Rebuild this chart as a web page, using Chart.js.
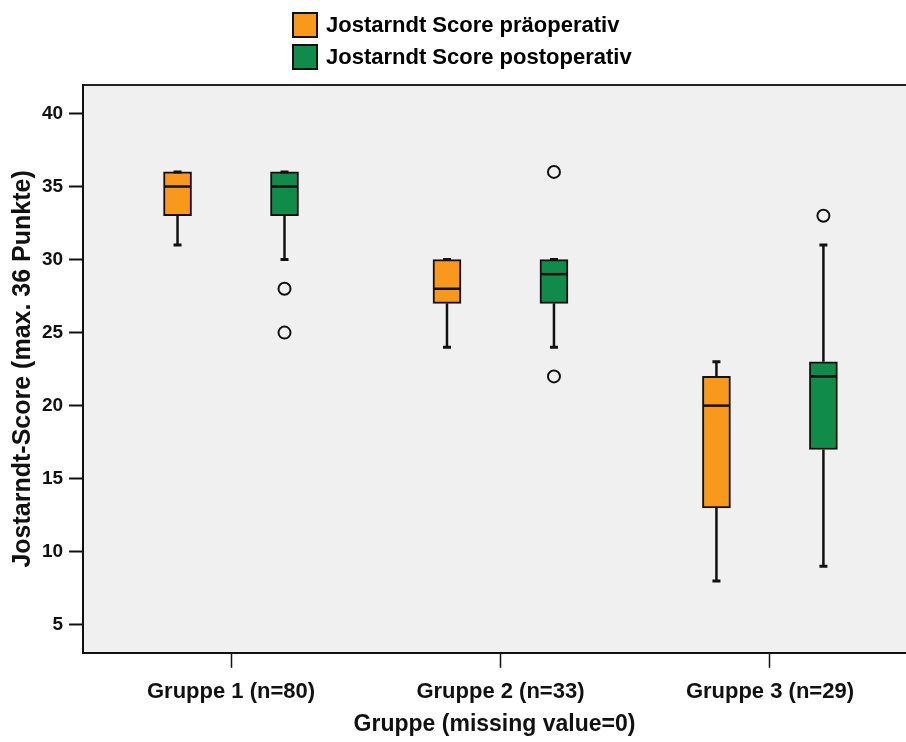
<!DOCTYPE html>
<html>
<head>
<meta charset="utf-8">
<script src="https://cdn.jsdelivr.net/npm/chart.js@4.4.0/dist/chart.umd.min.js"></script>
<style>
html,body{margin:0;padding:0;background:#ffffff;}
#wrap{position:relative;width:906px;height:742px;}
#legend{position:absolute;left:292px;top:12px;font:bold 22px "Liberation Sans",Arial,sans-serif;color:#000;}
#legend .item{display:flex;align-items:center;height:26px;margin-bottom:6px;white-space:nowrap;}
#legend .sw{width:22px;height:22px;border:2px solid #111;margin-right:8px;box-sizing:content-box;flex:none;}
</style>
</head>
<body>
<div id="wrap"><canvas id="c" width="906" height="742"></canvas><div id="legend"></div></div>
<script>
// ---- data ----
const groups = ["Gruppe 1 (n=80)", "Gruppe 2 (n=33)", "Gruppe 3 (n=29)"];
const seriesNames = ["Jostarndt Score präoperativ", "Jostarndt Score postoperativ"];
const yTicks = [5, 10, 15, 20, 25, 30, 35, 40];

const preMin = [31, 24, 8];
const preQ1 = [33, 27, 13];
const preMedian = [35, 28, 20];
const preQ3 = [36, 30, 22];
const preMax = [36, 30, 23];
const preOutliers = [[], [], []];

const postMin = [30, 24, 9];
const postQ1 = [33, 27, 17];
const postMedian = [35, 29, 22];
const postQ3 = [36, 30, 23];
const postMax = [36, 30, 31];
const postOutliers = [[28, 25], [36, 22], [33]];

// ---- styling ----
const FONT = '"Liberation Sans", Arial, sans-serif';
const colors = ["#F8991E", "#108B4A"];
const OFF = 0.1985;
const offsets = [-OFF, OFF];
const series = [
  {min: preMin, q1: preQ1, med: preMedian, q3: preQ3, max: preMax, out: preOutliers},
  {min: postMin, q1: postQ1, med: postMedian, q3: postQ3, max: postMax, out: postOutliers}
];

const boxDatasets = series.map((s, k) => ({
  type: 'bar',
  label: seriesNames[k],
  data: groups.map((g, i) => ({x: i + 1 + offsets[k], y: [s.q1[i], s.q3[i]]})),
  backgroundColor: colors[k],
  borderColor: '#111',
  borderWidth: 2,
  borderSkipped: false,
  grouped: false,
  maxBarThickness: 28,
  barPercentage: 1,
  categoryPercentage: 1,
  order: 2
}));

const outlierDatasets = series.map((s, k) => ({
  type: 'scatter',
  label: seriesNames[k] + ' (Ausreißer)',
  data: s.out.flatMap((arr, i) => arr.map(v => ({x: i + 1 + offsets[k], y: v}))),
  pointStyle: 'circle',
  pointRadius: 6,
  pointHoverRadius: 6,
  pointBorderWidth: 2,
  pointBorderColor: '#111',
  pointBackgroundColor: 'rgba(0,0,0,0)',
  showLine: false,
  order: 1
}));

const plotBg = {
  id: 'plotBg',
  beforeDraw(chart) {
    const {ctx, chartArea: a} = chart;
    ctx.save();
    ctx.fillStyle = '#F0F0F0';
    ctx.fillRect(a.left, a.top, a.right - a.left, a.bottom - a.top);
    ctx.strokeStyle = '#222';
    ctx.lineWidth = 2;
    ctx.beginPath();
    ctx.moveTo(a.left, a.top);
    ctx.lineTo(a.right, a.top);
    ctx.stroke();
    ctx.restore();
  }
};

const boxDecor = {
  id: 'boxDecor',
  afterDatasetsDraw(chart) {
    const {ctx} = chart;
    const xs = chart.scales.x, ys = chart.scales.y;
    ctx.save();
    ctx.strokeStyle = '#111';
    ctx.lineCap = 'butt';
    series.forEach((s, k) => {
      const meta = chart.getDatasetMeta(k);
      groups.forEach((g, i) => {
        const xc = xs.getPixelForValue(i + 1 + offsets[k]);
        const bar = meta.data[i];
        const hw = bar ? bar.width / 2 : 14;
        const yMin = ys.getPixelForValue(s.min[i]);
        const yMax = ys.getPixelForValue(s.max[i]);
        const yQ1 = ys.getPixelForValue(s.q1[i]);
        const yQ3 = ys.getPixelForValue(s.q3[i]);
        const yMed = ys.getPixelForValue(s.med[i]);
        ctx.lineWidth = 2.5;
        ctx.beginPath();
        ctx.moveTo(xc, yQ3); ctx.lineTo(xc, yMax);
        ctx.moveTo(xc, yQ1); ctx.lineTo(xc, yMin);
        ctx.stroke();
        ctx.lineWidth = 3;
        ctx.beginPath();
        ctx.moveTo(xc - 4, yMax); ctx.lineTo(xc + 4, yMax);
        ctx.moveTo(xc - 4, yMin); ctx.lineTo(xc + 4, yMin);
        ctx.stroke();
        ctx.lineWidth = 2.5;
        ctx.beginPath();
        ctx.moveTo(xc - hw + 1, yMed); ctx.lineTo(xc + hw - 1, yMed);
        ctx.stroke();
      });
    });
    ctx.restore();
  }
};

const htmlLegend = {
  id: 'htmlLegend',
  afterUpdate(chart) {
    const el = document.getElementById('legend');
    el.innerHTML = '';
    chart.data.datasets.filter(d => d.type === 'bar').forEach(d => {
      const item = document.createElement('div');
      item.className = 'item';
      const sw = document.createElement('span');
      sw.className = 'sw';
      sw.style.background = d.backgroundColor;
      const tx = document.createElement('span');
      tx.textContent = d.label;
      item.appendChild(sw);
      item.appendChild(tx);
      el.appendChild(item);
    });
  }
};

new Chart(document.getElementById('c'), {
  type: 'bar',
  data: {datasets: [...boxDatasets, ...outlierDatasets]},
  options: {
    responsive: false,
    animation: false,
    events: [],
    layout: {autoPadding: false, padding: {top: 85, left: 4, right: 0, bottom: 0}},
    plugins: {legend: {display: false}, tooltip: {enabled: false}},
    scales: {
      x: {
        type: 'linear',
        min: 0.4508,
        max: 3.505,
        offset: false,
        afterBuildTicks(scale) { scale.ticks = [1, 2, 3].map(v => ({value: v})); },
        ticks: {
          autoSkip: false, maxRotation: 0, padding: 11,
          color: '#111',
          font: {family: FONT, size: 22, weight: 'bold'},
          callback: (v) => groups[Math.round(v) - 1] || ''
        },
        grid: {display: true, offset: false, drawOnChartArea: false, drawTicks: true, tickLength: 15, tickColor: '#111', tickWidth: 1.5},
        border: {display: true, color: '#111', width: 2},
        title: {display: true, text: 'Gruppe (missing value=0)', color: '#111',
          font: {family: FONT, size: 23, weight: 'bold'}, padding: {top: -5.8, bottom: 4}}
      },
      y: {
        type: 'linear',
        min: 3.08,
        max: 41.95,
        afterBuildTicks(scale) { scale.ticks = yTicks.map(v => ({value: v})); },
        ticks: {
          padding: 6, color: '#111',
          font: {family: FONT, size: 19, weight: 'bold'}
        },
        grid: {display: true, offset: false, drawOnChartArea: false, drawTicks: true, tickLength: 14, tickColor: '#111', tickWidth: 2},
        border: {display: true, color: '#111', width: 2},
        title: {display: true, text: 'Jostarndt-Score (max. 36 Punkte)', color: '#111',
          font: {family: FONT, size: 25, weight: 'bold'}, padding: {top: 4, bottom: -2.1}}
      }
    }
  },
  plugins: [plotBg, boxDecor, htmlLegend]
});
</script>
</body>
</html>
